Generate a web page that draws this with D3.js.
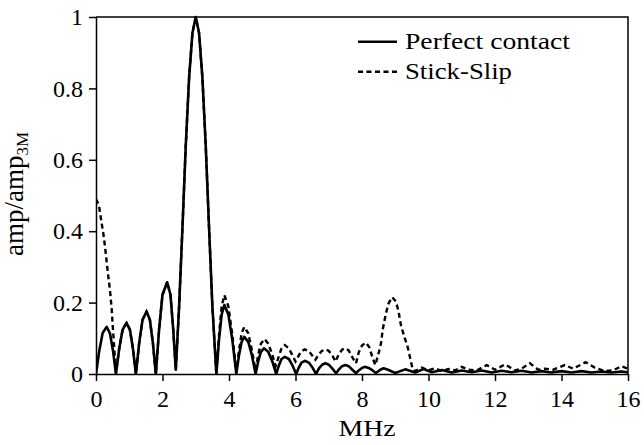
<!DOCTYPE html>
<html>
<head>
<meta charset="utf-8">
<script src="https://cdn.jsdelivr.net/npm/d3@7/dist/d3.min.js"></script>
<style>
  html, body { margin: 0; padding: 0; background: #fff; }
  svg { display: block; }
  text { font-family: "Liberation Serif", "Times New Roman", serif; fill: #000; }
</style>
</head>
<body>
<svg id="chart" width="644" height="445"></svg>
<script>
// ---- Data ----
const xTicks = [0, 2, 4, 6, 8, 10, 12, 14, 16];
const yTicks = [0, 0.2, 0.4, 0.6, 0.8, 1];
const xTickLabels = ["0", "2", "4", "6", "8", "10", "12", "14", "16"];
const yTickLabels = ["0", "0.2", "0.4", "0.6", "0.8", "1"];
const seriesNames = ["Perfect contact", "Stick-Slip"];

const freqPerfect = [
  0, 0.1, 0.2, 0.32, 0.42, 0.51, 0.6,
  0.7, 0.8, 0.92, 1.02, 1.11, 1.2,
  1.3, 1.4, 1.52, 1.62, 1.71, 1.8,
  1.9, 2.0, 2.14, 2.24, 2.32, 2.4,
  2.5, 2.6, 2.7, 2.8, 2.9, 3.0, 3.1, 3.2, 3.3, 3.4, 3.5, 3.62,
  3.7, 3.78, 3.86, 3.98, 4.1, 4.22,
  4.3, 4.38, 4.46, 4.58, 4.69, 4.8,
  4.88, 4.96, 5.05, 5.18, 5.3, 5.42,
  5.5, 5.58, 5.68, 5.8, 5.91, 6.02,
  6.1, 6.18, 6.28, 6.4, 6.51, 6.62,
  6.7, 6.8, 6.9, 7.0, 7.11, 7.22,
  7.3, 7.4, 7.5, 7.6, 7.71, 7.82,
  7.9, 8.0, 8.08, 8.2, 8.32, 8.42,
  8.55, 8.65, 8.78, 9.0, 9.3, 9.6, 9.85, 10.1, 10.4, 10.7, 11.0, 11.3,
  11.6, 11.9, 12.2, 12.5, 12.8, 13.1, 13.4, 13.7, 14.0, 14.3, 14.6, 14.9,
  15.2, 15.5, 15.8, 16.0
];
const ampPerfect = [
  0, 0.066, 0.115, 0.132, 0.114, 0.066, 0,
  0.072, 0.124, 0.143, 0.124, 0.072, 0,
  0.088, 0.152, 0.175, 0.152, 0.088, 0,
  0.128, 0.222, 0.257, 0.222, 0.128, 0.012,
  0.19, 0.41, 0.64, 0.83, 0.955, 1.0, 0.955, 0.83, 0.64, 0.41, 0.19, 0,
  0.096, 0.167, 0.193, 0.167, 0.096, 0,
  0.052, 0.09, 0.104, 0.09, 0.052, 0,
  0.036, 0.062, 0.072, 0.062, 0.036, 0,
  0.024, 0.042, 0.048, 0.042, 0.024, 0,
  0.018, 0.032, 0.037, 0.032, 0.018, 0,
  0.015, 0.026, 0.03, 0.026, 0.015, 0.002,
  0.012, 0.022, 0.025, 0.022, 0.012, 0.002,
  0.01, 0.017, 0.02, 0.017, 0.01, 0.003,
  0.012, 0.016, 0.012, 0.003, 0.013, 0.004, 0.014, 0.005, 0.011, 0.004, 0.01, 0.005,
  0.01, 0.004, 0.009, 0.005, 0.009, 0.004, 0.008, 0.004, 0.008, 0.004, 0.008, 0.004,
  0.007, 0.004, 0.007, 0.005
];

const freqStick = [
  0, 0.09, 0.14, 0.22, 0.27, 0.32, 0.37, 0.42, 0.47, 0.5, 0.55, 0.6,
  0.7, 0.8, 0.92, 1.02, 1.11, 1.2,
  1.3, 1.4, 1.52, 1.62, 1.71, 1.8,
  1.9, 2.0, 2.14, 2.24, 2.32, 2.4,
  2.5, 2.6, 2.7, 2.8, 2.9, 3.0, 3.1, 3.2, 3.3, 3.4, 3.5, 3.62,
  3.7, 3.78, 3.86, 3.98, 4.1, 4.22,
  4.3, 4.38, 4.46, 4.58, 4.69, 4.8,
  4.88, 4.96, 5.07, 5.18, 5.3, 5.4,
  5.5, 5.58, 5.68, 5.8, 5.92, 6.0,
  6.1, 6.18, 6.28, 6.4, 6.52, 6.6,
  6.7, 6.8, 6.9, 7.0, 7.12, 7.2,
  7.3, 7.4, 7.5, 7.6, 7.72, 7.82,
  7.9, 8.0, 8.12, 8.22, 8.32, 8.4,
  8.51, 8.58, 8.62, 8.72, 8.8, 8.91, 9.02, 9.1, 9.17, 9.27, 9.37, 9.45, 9.52, 9.6,
  9.8, 10.0, 10.2, 10.4, 10.6, 10.8, 11.0, 11.2, 11.45, 11.75, 12.0, 12.3,
  12.6, 12.8, 13.05, 13.3, 13.5, 13.75, 14.1, 14.35, 14.73, 15.0, 15.3, 15.55,
  15.8, 16.0
];
const ampStick = [
  0.49, 0.473, 0.44, 0.394, 0.357, 0.315, 0.273, 0.235, 0.184, 0.14, 0.07, 0.005,
  0.072, 0.124, 0.143, 0.124, 0.072, 0,
  0.088, 0.152, 0.175, 0.152, 0.088, 0,
  0.128, 0.222, 0.257, 0.222, 0.128, 0.012,
  0.19, 0.41, 0.64, 0.83, 0.955, 1.0, 0.955, 0.83, 0.64, 0.41, 0.19, 0,
  0.11, 0.19, 0.221, 0.19, 0.11, 0.005,
  0.066, 0.114, 0.132, 0.114, 0.066, 0.01,
  0.055, 0.085, 0.098, 0.085, 0.055, 0.022,
  0.05, 0.072, 0.081, 0.072, 0.05, 0.035,
  0.052, 0.064, 0.069, 0.064, 0.05, 0.04,
  0.055, 0.065, 0.069, 0.065, 0.05, 0.035,
  0.055, 0.068, 0.072, 0.066, 0.045, 0.03,
  0.06, 0.08, 0.088, 0.075, 0.045, 0.025,
  0.062, 0.09, 0.123, 0.17, 0.198, 0.215, 0.203, 0.175, 0.137, 0.105, 0.077, 0.044, 0.015, 0.008,
  0.018, 0.01, 0.016, 0.008, 0.014, 0.01, 0.02, 0.012, 0.01, 0.025, 0.012, 0.027,
  0.01, 0.015, 0.03, 0.012, 0.015, 0.012, 0.025, 0.015, 0.033, 0.018, 0.008, 0.01,
  0.022, 0.015
];

// ---- Layout ----
const W = 644, H = 445;
const plot = { left: 96, right: 628, top: 17, bottom: 374 };

const svg = d3.select("#chart");
const x = d3.scaleLinear().domain([0, 16]).range([plot.left, plot.right]);
const y = d3.scaleLinear().domain([0, 1]).range([plot.bottom, plot.top]);

const line = d3.line()
  .x(d => x(d[0]))
  .y(d => y(d[1]))
  .curve(d3.curveLinear);

const perfect = freqPerfect.map((f, i) => [f, ampPerfect[i]]);
const stick = freqStick.map((f, i) => [f, ampStick[i]]);

// clip
svg.append("clipPath").attr("id", "clip")
  .append("rect")
  .attr("x", plot.left).attr("y", plot.top - 2)
  .attr("width", plot.right - plot.left).attr("height", plot.bottom - plot.top + 2);

const g = svg.append("g").attr("clip-path", "url(#clip)");

g.append("path")
  .datum(stick)
  .attr("d", line)
  .attr("fill", "none")
  .attr("stroke", "#000")
  .attr("stroke-width", 2.4)
  .attr("stroke-dasharray", "5,3.5");

g.append("path")
  .datum(perfect)
  .attr("d", line)
  .attr("fill", "none")
  .attr("stroke", "#000")
  .attr("stroke-width", 2.6)
  .attr("stroke-linejoin", "round");

// axes
const xAxis = d3.axisBottom(x)
  .tickValues(xTicks)
  .tickFormat((d, i) => xTickLabels[i])
  .tickSize(7)
  .tickSizeOuter(0);
const yAxis = d3.axisLeft(y)
  .tickValues(yTicks)
  .tickFormat((d, i) => yTickLabels[i])
  .tickSize(7)
  .tickSizeOuter(0)
  .tickPadding(6);

const gx = svg.append("g")
  .attr("transform", `translate(0,${plot.bottom})`)
  .call(xAxis);
gx.selectAll("text")
  .attr("y", 33).attr("dy", 0)
  .style("font-size", "24px")
  .style("font-family", "'Liberation Serif', serif");

const gy = svg.append("g")
  .attr("transform", `translate(${plot.left},0)`)
  .call(yAxis);
gy.selectAll("text")
  .style("font-size", "24px")
  .style("font-family", "'Liberation Serif', serif");

svg.selectAll(".domain, .tick line")
  .attr("stroke", "#000")
  .attr("stroke-width", 1.5);

// frame (top and right)
svg.append("path")
  .attr("d", `M${plot.left},${plot.top}H${plot.right}V${plot.bottom}`)
  .attr("fill", "none")
  .attr("stroke", "#000")
  .attr("stroke-width", 1.5);

// axis titles
svg.append("text")
  .attr("x", 367).attr("y", 436)
  .attr("text-anchor", "middle")
  .attr("textLength", 57)
  .attr("lengthAdjust", "spacingAndGlyphs")
  .style("font-size", "24px")
  .text("MHz");

const yl = svg.append("text")
  .attr("transform", "translate(23,194) rotate(-90)")
  .attr("text-anchor", "middle")
  .style("font-size", "27px");
yl.append("tspan").text("amp/amp");
yl.append("tspan").attr("dy", "0.28em").style("font-size", "17px").text("3M");

// legend
const legend = svg.append("g");
const legendY = [41.7, 71.7];
const legendDash = [null, "5,3.5"];
const legendLen = [165, 107];
seriesNames.forEach((name, i) => {
  legend.append("line")
    .attr("x1", 358).attr("x2", 397)
    .attr("y1", legendY[i]).attr("y2", legendY[i])
    .attr("stroke", "#000")
    .attr("stroke-width", 2.4)
    .attr("stroke-dasharray", legendDash[i]);
  legend.append("text")
    .attr("x", 405).attr("y", legendY[i] + 7)
    .attr("textLength", legendLen[i])
    .attr("lengthAdjust", "spacingAndGlyphs")
    .style("font-size", "23px")
    .text(name);
});
</script>
</body>
</html>
